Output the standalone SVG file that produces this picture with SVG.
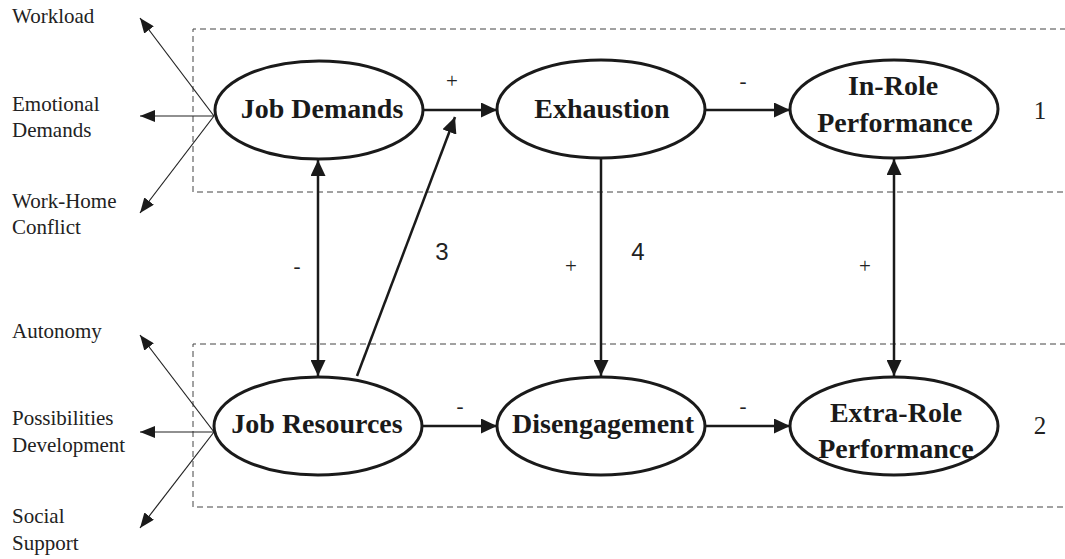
<svg xmlns="http://www.w3.org/2000/svg" width="1065" height="559" viewBox="0 0 1065 559">
<style>
.bg{fill:#fff}
.box{fill:none;stroke:#444;stroke-width:1;stroke-dasharray:6 4}
.node ellipse{fill:#fff;stroke:#1a1a1a;stroke-width:3}
.nt{font-family:"Liberation Serif","Times New Roman",serif;font-weight:bold;font-size:28px;fill:#1a1a1a;text-anchor:middle}
.side{font-family:"Liberation Serif","Times New Roman",serif;font-size:21px;fill:#222}
.sign{font-family:"Liberation Serif","Times New Roman",serif;font-size:21px;fill:#222;text-anchor:middle}
.num{font-family:"Liberation Serif","Times New Roman",serif;font-size:25px;fill:#222;text-anchor:middle}
.nums{font-family:"Liberation Sans",Arial,sans-serif;font-size:24px;fill:#222;text-anchor:middle}
.thick{stroke:#1a1a1a;stroke-width:2.5;fill:none}
.thin{stroke:#222;stroke-width:1.2;fill:none}
</style>
<defs>
<marker id="ah" markerUnits="userSpaceOnUse" viewBox="0 0 16 15" refX="16" refY="7.5" markerWidth="16" markerHeight="15" orient="auto-start-reverse">
<path d="M0,0 L16,7.5 L0,15 z" fill="#1a1a1a"/>
</marker>
<marker id="ahs" markerUnits="userSpaceOnUse" viewBox="0 0 15 12" refX="15" refY="6" markerWidth="15" markerHeight="12" orient="auto-start-reverse">
<path d="M0,0 L15,6 L0,12 z" fill="#1a1a1a"/>
</marker>
</defs>
<rect class="bg" x="0" y="0" width="1065" height="559"/>
<g id="boxes">
<path class="box" d="M1066,29 H193 V192 H1066"/>
<path class="box" d="M1066,344 H193 V507 H1066"/>
</g>
<g id="connectors">
<line class="thin" x1="214" y1="116" x2="140" y2="18" marker-end="url(#ahs)"/>
<line class="thin" x1="214" y1="116" x2="140" y2="116" marker-end="url(#ahs)"/>
<line class="thin" x1="214" y1="116" x2="140" y2="213" marker-end="url(#ahs)"/>
<line class="thin" x1="214" y1="432" x2="140" y2="335" marker-end="url(#ahs)"/>
<line class="thin" x1="214" y1="432" x2="140" y2="432" marker-end="url(#ahs)"/>
<line class="thin" x1="214" y1="432" x2="140" y2="528" marker-end="url(#ahs)"/>
<line class="thick" x1="423" y1="110" x2="497" y2="110" marker-end="url(#ah)"/>
<line class="thick" x1="705" y1="110" x2="790" y2="110" marker-end="url(#ah)"/>
<line class="thick" x1="422" y1="426" x2="497" y2="426" marker-end="url(#ah)"/>
<line class="thick" x1="705" y1="426" x2="790" y2="426" marker-end="url(#ah)"/>
<line class="thick" x1="318" y1="160" x2="318" y2="376" marker-start="url(#ah)" marker-end="url(#ah)"/>
<line class="thick" x1="601" y1="158" x2="601" y2="376" marker-end="url(#ah)"/>
<line class="thick" x1="894" y1="159" x2="894" y2="376" marker-start="url(#ah)" marker-end="url(#ah)"/>
<line class="thick" x1="357" y1="376" x2="455" y2="117" marker-end="url(#ah)"/>
<text class="sign" x="452" y="88">+</text>
<text class="sign" x="743" y="88">-</text>
<text class="sign" x="297" y="273">-</text>
<text class="sign" x="571" y="273">+</text>
<text class="sign" x="865" y="273">+</text>
<text class="sign" x="460" y="413">-</text>
<text class="sign" x="743" y="413">-</text>
<text class="nums" x="442" y="260">3</text>
<text class="nums" x="638" y="260">4</text>
</g>
<g id="n-job-demands" class="node">
<ellipse cx="319" cy="110" rx="104" ry="49"/>
<text class="nt" x="322" y="118">Job Demands</text>
</g>
<g id="n-exhaustion" class="node">
<ellipse cx="601" cy="109" rx="104" ry="49"/>
<text class="nt" x="602" y="118">Exhaustion</text>
</g>
<g id="n-in-role" class="node">
<ellipse cx="894" cy="109" rx="104" ry="49"/>
<text class="nt" x="893" y="95">In-Role</text>
<text class="nt" x="895" y="132">Performance</text>
</g>
<g id="n-job-resources" class="node">
<ellipse cx="318" cy="426" rx="104" ry="49"/>
<text class="nt" x="317" y="433">Job Resources</text>
</g>
<g id="n-disengagement" class="node">
<ellipse cx="601" cy="426" rx="104" ry="49"/>
<text class="nt" x="603" y="433">Disengagement</text>
</g>
<g id="n-extra-role" class="node">
<ellipse cx="894" cy="426" rx="104" ry="49"/>
<text class="nt" x="896" y="422">Extra-Role</text>
<text class="nt" x="896" y="458">Performance</text>
</g>
<g id="side-labels">
<text class="side" x="12" y="23">Workload</text>
<text class="side" x="12" y="111">Emotional</text>
<text class="side" x="12" y="137">Demands</text>
<text class="side" x="12" y="208">Work-Home</text>
<text class="side" x="12" y="234">Conflict</text>
<text class="side" x="12" y="338">Autonomy</text>
<text class="side" x="12" y="425">Possibilities</text>
<text class="side" x="12" y="452">Development</text>
<text class="side" x="12" y="523">Social</text>
<text class="side" x="12" y="550">Support</text>
</g>
<g id="row-numbers">
<text class="num" x="1040" y="119">1</text>
<text class="num" x="1040" y="434">2</text>
</g>
</svg>
